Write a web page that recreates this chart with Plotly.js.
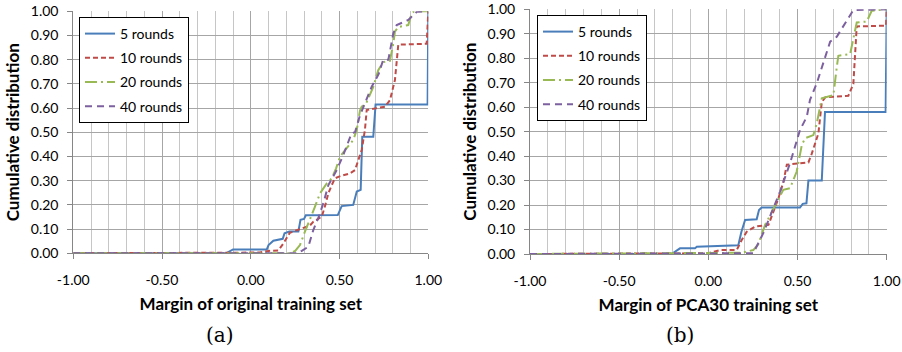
<!DOCTYPE html>
<html>
<head>
<meta charset="utf-8">
<script src="https://cdn.plot.ly/plotly-3.0.1.min.js"></script>
<style>html,body{margin:0;padding:0;background:#fff;}#chart{width:902px;height:352px;}</style>
</head>
<body>
<div id="chart"></div>
<script>
// ---- Data: panel (a) original training set ----
const seriesNames = ['5 rounds', '10 rounds', '20 rounds', '40 rounds'];

const a5x = [-1, -0.14, -0.10, 0.09, 0.10, 0.127, 0.18, 0.19, 0.217, 0.268, 0.28, 0.30, 0.31, 0.49, 0.512, 0.577, 0.597, 0.619, 0.628, 0.69, 0.703, 0.996, 1.0];
const a5y = [0, 0, 0.016, 0.016, 0.034, 0.052, 0.06, 0.083, 0.09, 0.09, 0.138, 0.142, 0.157, 0.158, 0.195, 0.2, 0.255, 0.262, 0.482, 0.482, 0.615, 0.615, 1.0];

const a10x = [-1, 0.0, 0.05, 0.10, 0.155, 0.183, 0.22, 0.277, 0.333, 0.352, 0.40, 0.42, 0.437, 0.455, 0.474, 0.50, 0.559, 0.587, 0.625, 0.643, 0.653, 0.756, 0.784, 0.812, 0.831, 0.991, 1.0];
const a10y = [0, 0, 0.003, 0.01, 0.012, 0.04, 0.085, 0.1, 0.115, 0.13, 0.152, 0.2, 0.248, 0.28, 0.31, 0.318, 0.33, 0.344, 0.427, 0.51, 0.592, 0.606, 0.633, 0.716, 0.862, 0.866, 1.0];

const a20x = [-1, 0.22, 0.25, 0.277, 0.30, 0.334, 0.36, 0.39, 0.428, 0.456, 0.48, 0.503, 0.54, 0.559, 0.577, 0.597, 0.615, 0.625, 0.65, 0.69, 0.718, 0.746, 0.784, 0.803, 0.812, 0.83, 0.887, 0.906, 0.92, 1.0];
const a20y = [0, 0, 0.01, 0.034, 0.08, 0.138, 0.19, 0.248, 0.289, 0.31, 0.35, 0.40, 0.434, 0.448, 0.468, 0.51, 0.59, 0.606, 0.62, 0.688, 0.757, 0.79, 0.795, 0.868, 0.916, 0.935, 0.943, 0.99, 1.0, 1.0];

const a40x = [-1, 0.264, 0.287, 0.324, 0.352, 0.38, 0.41, 0.437, 0.484, 0.521, 0.568, 0.587, 0.615, 0.643, 0.681, 0.72, 0.746, 0.775, 0.803, 0.822, 0.887, 0.935, 1.0];
const a40y = [0, 0, 0.01, 0.027, 0.096, 0.145, 0.21, 0.282, 0.344, 0.406, 0.496, 0.50, 0.57, 0.62, 0.688, 0.74, 0.80, 0.80, 0.909, 0.943, 0.964, 0.998, 1.0];

// ---- Data: panel (b) PCA30 training set ----
const b5x = [-1, -0.206, -0.159, -0.075, -0.065, 0.084, 0.168, 0.185, 0.206, 0.271, 0.284, 0.299, 0.514, 0.529, 0.55, 0.561, 0.636, 0.654, 0.994, 1.0];
const b5y = [0, 0, 0.023, 0.023, 0.03, 0.033, 0.036, 0.09, 0.139, 0.142, 0.18, 0.19, 0.19, 0.205, 0.207, 0.30, 0.30, 0.58, 0.58, 1.0];

const b10x = [-1, 0.0, 0.066, 0.159, 0.187, 0.215, 0.262, 0.337, 0.393, 0.421, 0.44, 0.515, 0.561, 0.58, 0.617, 0.636, 0.655, 0.785, 0.813, 0.832, 0.996, 1.0];
const b10y = [0, 0.003, 0.016, 0.016, 0.057, 0.091, 0.112, 0.119, 0.228, 0.295, 0.365, 0.37, 0.374, 0.41, 0.493, 0.62, 0.64, 0.647, 0.695, 0.93, 0.933, 1.0];

const b20x = [-1, 0.187, 0.252, 0.28, 0.318, 0.383, 0.42, 0.458, 0.495, 0.524, 0.542, 0.589, 0.608, 0.636, 0.701, 0.72, 0.729, 0.795, 0.813, 0.832, 0.888, 0.916, 1.0];
const b20y = [0, 0.005, 0.016, 0.04, 0.119, 0.207, 0.262, 0.269, 0.336, 0.445, 0.473, 0.486, 0.534, 0.636, 0.649, 0.763, 0.81, 0.817, 0.885, 0.946, 0.95, 0.994, 1.0];

const b40x = [-1, 0.234, 0.252, 0.308, 0.346, 0.402, 0.458, 0.514, 0.552, 0.57, 0.608, 0.645, 0.683, 0.72, 0.776, 0.813, 1.0];
const b40y = [0, 0, 0.003, 0.085, 0.153, 0.255, 0.371, 0.507, 0.561, 0.63, 0.698, 0.779, 0.868, 0.888, 0.956, 0.997, 1.0];

// ---- Tick labels ----
const xTickVals = [-1, -0.5, 0, 0.5, 1];
const xTickText = ['-1.00', '-0.50', '0.00', '0.50', '1.00'];
const xTitleA = 'Margin of original training set';
const xTitleB = 'Margin of PCA30 training set';
const yTitle = 'Cumulative distribution';
const panelLabels = ['(a)', '(b)'];

// ---- Styles ----
const colors = ['#4A7EBB', '#BE4B48', '#98B954', '#7D60A0'];
const dashes = ['solid', '5px,3px', '12px,4px,2px,4px', '7px,5px'];
const font = 'Lato, "Open Sans", "Liberation Sans", sans-serif';

const dataA = [[a5x, a5y], [a10x, a10y], [a20x, a20y], [a40x, a40y]];
const dataB = [[b5x, b5y], [b10x, b10y], [b20x, b20y], [b40x, b40y]];

const traces = [];
dataA.forEach((d, i) => traces.push({
  x: d[0], y: d[1], type: 'scatter', mode: 'lines', name: seriesNames[i],
  line: {color: colors[i], width: 2, dash: dashes[i]},
  xaxis: 'x', yaxis: 'y', legend: 'legend', legendgroup: 'a' + i, hoverinfo: 'skip'
}));
dataB.forEach((d, i) => traces.push({
  x: d[0], y: d[1], type: 'scatter', mode: 'lines', name: seriesNames[i],
  line: {color: colors[i], width: 2, dash: dashes[i]},
  xaxis: 'x2', yaxis: 'y2', legend: 'legend2', legendgroup: 'b' + i, hoverinfo: 'skip'
}));

function xAxis(domain, title, anchor) {
  return {
    domain: domain, anchor: anchor, range: [-1, 1], tickmode: 'array',
    tickvals: xTickVals, ticktext: xTickText,
    showgrid: true, gridcolor: '#a6a6a6', gridwidth: 1,
    minor: {tickmode: 'linear', tick0: -1, dtick: 0.1, showgrid: true, gridcolor: '#c6c6c6', gridwidth: 1, ticks: ''},
    showline: true, linecolor: '#868686', linewidth: 1,
    ticks: 'outside', ticklen: 5, tickcolor: '#868686', ticklabelstandoff: 9,
    zeroline: false, fixedrange: true,
    tickfont: {family: font, size: 14, color: '#000'},
    title: {text: title, font: {family: font, size: 17, color: '#000', weight: 'bold'}, standoff: 11}
  };
}
function yAxis(domain, anchor) {
  return {
    domain: domain, anchor: anchor, range: [0, 1], tickmode: 'linear', tick0: 0, dtick: 0.1,
    tickformat: '.2f',
    showgrid: true, gridcolor: '#a6a6a6', gridwidth: 1,
    showline: true, linecolor: '#868686', linewidth: 1,
    ticks: 'outside', ticklen: 5, tickcolor: '#868686', ticklabelstandoff: 6,
    zeroline: false, fixedrange: true,
    tickfont: {family: font, size: 14, color: '#000'},
    title: {text: yTitle, font: {family: font, size: 17, color: '#000', weight: 'bold'}, standoff: 6}
  };
}

const legendBase = {
  xanchor: 'left', yanchor: 'top', bgcolor: '#fff', bordercolor: '#000', borderwidth: 1,
  font: {family: font, size: 14, color: '#000'}, traceorder: 'grouped', tracegroupgap: 3,
  itemclick: false, itemdoubleclick: false
};

const layout = {
  width: 902, height: 352,
  margin: {l: 0, r: 0, t: 0, b: 0},
  paper_bgcolor: '#fff', plot_bgcolor: '#fff',
  showlegend: true,
  xaxis: xAxis([73.3 / 902, 428.3 / 902], xTitleA, 'y'),
  yaxis: yAxis([1 - 253.3 / 352, 1 - 11.3 / 352], 'x'),
  xaxis2: xAxis([530 / 902, 886.7 / 902], xTitleB, 'y2'),
  yaxis2: yAxis([1 - 254 / 352, 1 - 9.3 / 352], 'x2'),
  legend: Object.assign({}, legendBase, {x: 79 / 902, y: 1 - 17 / 352}),
  legend2: Object.assign({}, legendBase, {x: 537 / 902, y: 1 - 15 / 352}),
  annotations: [
    {text: panelLabels[0], xref: 'paper', yref: 'paper', x: 220 / 902, y: 1 - 335 / 352, showarrow: false,
     xanchor: 'center', yanchor: 'middle', font: {family: '"DejaVu Serif", "Liberation Serif", serif', size: 20, color: '#000'}},
    {text: panelLabels[1], xref: 'paper', yref: 'paper', x: 680 / 902, y: 1 - 335 / 352, showarrow: false,
     xanchor: 'center', yanchor: 'middle', font: {family: '"DejaVu Serif", "Liberation Serif", serif', size: 20, color: '#000'}}
  ]
};

Plotly.newPlot('chart', traces, layout, {staticPlot: true, displayModeBar: false});
</script>
</body>
</html>
